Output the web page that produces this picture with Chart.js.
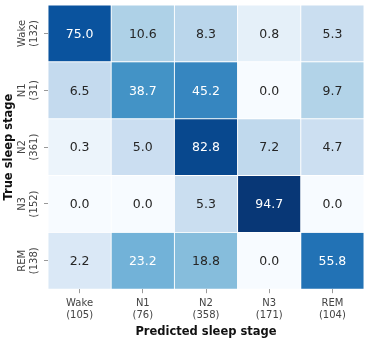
<!DOCTYPE html>
<html>
<head>
<meta charset="utf-8">
<script src="https://cdn.jsdelivr.net/npm/chart.js@4/dist/chart.umd.min.js"></script>
<style>
    html, body { margin: 0; padding: 0; background: #fff; }
    canvas { display: block; }
</style>
</head>
<body>
<canvas id="chart" width="369" height="341"></canvas>
<script>
const stages = ['Wake', 'N1', 'N2', 'N3', 'REM']
const trueCounts = [132, 31, 361, 152, 138]
const predCounts = [105, 76, 358, 171, 104]

// row = true stage, column = predicted stage (percent of row)
const wakeRow = [75.0, 10.6, 8.3, 0.8, 5.3]
const n1Row = [6.5, 38.7, 45.2, 0.0, 9.7]
const n2Row = [0.3, 5.0, 82.8, 7.2, 4.7]
const n3Row = [0.0, 0.0, 5.3, 94.7, 0.0]
const remRow = [2.2, 23.2, 18.8, 0.0, 55.8]
const rows = [wakeRow, n1Row, n2Row, n3Row, remRow]

const FONT = "'DejaVu Sans', sans-serif"

// matplotlib Blues
const blues = ['#f7fbff', '#deebf7', '#c6dbef', '#9ecae1', '#6baed6', '#4292c6', '#2171b5', '#08519c', '#08306b']
const hexToRgb = h => [1, 3, 5].map(i => parseInt(h.slice(i, i + 2), 16))

function bluesAt(t) {
    t = Math.min(1, Math.max(0, t))
    const p = t * (blues.length - 1)
    const i = Math.min(blues.length - 2, Math.floor(p))
    const f = p - i
    const a = hexToRgb(blues[i]), b = hexToRgb(blues[i + 1])
    return a.map((v, k) => Math.round(v + (b[k] - v) * f))
}

// power norm, gamma 0.5
const cellRgb = v => bluesAt(Math.sqrt(v / 100))
const rgbStr = c => `rgb(${c[0]},${c[1]},${c[2]})`

function textColorFor(c) {
    const lin = c.map(v => {
        v /= 255
        return v <= 0.03928 ? v / 12.92 : Math.pow((v + 0.055) / 1.055, 2.4)
    })
    const lum = 0.2126 * lin[0] + 0.7152 * lin[1] + 0.0722 * lin[2]
    return lum > 0.408 ? '#262626' : '#ffffff'
}

const datasets = rows.map((row, i) => ({
    label: stages[i],
    data: row.map(() => [i, i + 1]),
    backgroundColor: row.map(v => rgbStr(cellRgb(v))),
    borderColor: '#ffffff',
    borderWidth: 0.8,
    borderSkipped: false,
    grouped: false,
    categoryPercentage: 1,
    barPercentage: 1,
}))

const cellText = {
    id: 'cellText',
    afterDatasetsDraw(chart) {
        const ctx = chart.ctx
        ctx.save()
        ctx.font = `12.5px ${FONT}`
        ctx.textAlign = 'center'
        ctx.textBaseline = 'middle'
        rows.forEach((row, i) => {
            chart.getDatasetMeta(i).data.forEach((bar, j) => {
                const p = bar.getCenterPoint()
                ctx.fillStyle = textColorFor(cellRgb(row[j]))
                ctx.fillText(row[j].toFixed(1), p.x, p.y + 1)
            })
        })
        ctx.restore()
    }
}

const yLabels = {
    id: 'yLabels',
    afterDraw(chart) {
        const ctx = chart.ctx
        const y = chart.scales.y
        ctx.save()
        ctx.textAlign = 'center'
        ctx.textBaseline = 'middle'
        ctx.fillStyle = '#444'
        ctx.font = `10px ${FONT}`
        stages.forEach((s, i) => {
            ctx.save()
            ctx.translate(22, y.getPixelForValue(i + 0.5))
            ctx.rotate(-Math.PI / 2)
            ctx.fillText(s, 0, 0)
            ctx.fillText(`(${trueCounts[i]})`, 0, 12)
            ctx.restore()
        })
        ctx.fillStyle = '#111'
        ctx.font = `bold 11.5px ${FONT}`
        ctx.translate(9, (chart.chartArea.top + chart.chartArea.bottom) / 2)
        ctx.rotate(-Math.PI / 2)
        ctx.fillText('True sleep stage', 0, 0)
        ctx.restore()
    }
}

new Chart(document.getElementById('chart'), {
    type: 'bar',
    data: {
        labels: stages.map((s, j) => [s, `(${predCounts[j]})`]),
        datasets
    },
    options: {
        responsive: false,
        animation: false,
        devicePixelRatio: 1,
        layout: { padding: { left: 44, right: 5, top: 5, bottom: 0 } },
        plugins: {
            legend: { display: false },
            tooltip: { enabled: false },
        },
        scales: {
            x: {
                grid: { offset: false, drawOnChartArea: false, tickLength: 4, color: '#999' },
                border: { display: false },
                ticks: {
                    color: '#444',
                    font: { family: FONT, size: 10, lineHeight: 1.25 },
                    padding: 3.5,
                    maxRotation: 0,
                },
                title: {
                    display: true,
                    text: 'Predicted sleep stage',
                    color: '#111',
                    font: { family: FONT, size: 11.5, weight: 'bold' },
                    padding: { top: 0, bottom: 2 },
                },
            },
            y: {
                min: 0,
                max: 5,
                reverse: true,
                afterBuildTicks: scale => { scale.ticks = stages.map((s, i) => ({ value: i + 0.5 })) },
                grid: { drawOnChartArea: false, tickLength: 4, color: '#999' },
                border: { display: false },
                ticks: { display: false },
            },
        },
    },
    plugins: [cellText, yLabels],
})
</script>
</body>
</html>
